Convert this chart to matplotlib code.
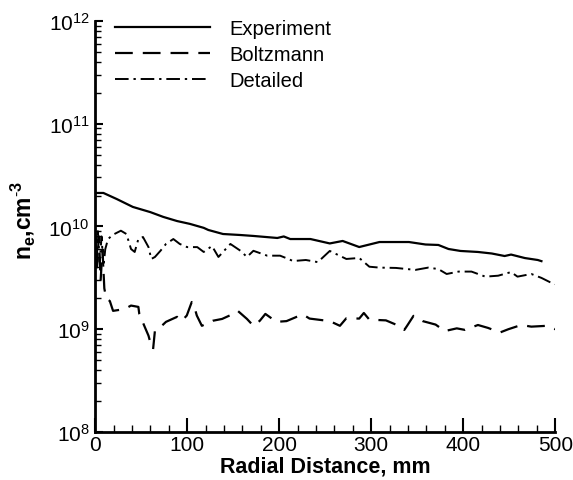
import numpy as np
import matplotlib.pyplot as plt
from matplotlib.ticker import LogLocator, NullFormatter, MultipleLocator

plt.rcParams['font.family'] = ['Liberation Sans', 'DejaVu Sans']
plt.rcParams['mathtext.fontset'] = 'custom'
plt.rcParams['mathtext.rm'] = 'Liberation Sans'
plt.rcParams['mathtext.it'] = 'Liberation Sans'
plt.rcParams['mathtext.bf'] = 'Liberation Sans:bold'

# Experiment (solid)
x_exp = [0, 9, 23.5, 41, 60, 74, 89, 103, 118, 123, 139, 158, 172, 198, 205, 212,
         234, 255, 269, 287, 309, 341, 359, 373, 384, 397, 416, 431, 445, 452, 467, 481, 485]
ne_exp = [2.12e10, 2.12e10, 1.85e10, 1.55e10, 1.38e10, 1.24e10, 1.13e10, 1.06e10, 9.7e9,
          9.25e9, 8.45e9, 8.26e9, 8.09e9, 7.73e9, 8.0e9, 7.55e9, 7.55e9, 6.84e9, 7.23e9,
          6.31e9, 7.06e9, 7.06e9, 6.68e9, 6.61e9, 6.04e9, 5.78e9, 5.65e9, 5.46e9, 5.16e9,
          5.33e9, 4.93e9, 4.72e9, 4.6e9]

# Boltzmann model (dashed)
x_bol = [0, 2, 4, 6, 8, 10, 12, 16, 19.5, 32, 39, 47, 48, 54, 58, 61, 63, 65, 71, 77,
         89, 94, 99.6, 105, 107, 110.5, 116, 128, 138, 150, 155, 165, 172, 179, 185, 197,
         208, 219, 226, 233, 255, 266, 273, 287, 292, 298, 316, 330, 336, 339, 346, 356,
         370, 380, 393, 402, 416, 427, 440, 449, 463, 474, 491, 500]
ne_bol = [9e9, 4e9, 8e9, 3e9, 6e9, 2.5e9, 2.0e9, 1.88e9, 1.51e9, 1.57e9, 1.70e9, 1.65e9,
          1.41e9, 1.05e9, 8.66e8, 6.9e8, 6.4e8, 9.7e8, 1.05e9, 1.18e9, 1.32e9, 1.2e9,
          1.36e9, 1.84e9, 1.76e9, 1.36e9, 1.08e9, 1.21e9, 1.26e9, 1.41e9, 1.51e9, 1.26e9,
          1.08e9, 1.21e9, 1.41e9, 1.18e9, 1.2e9, 1.32e9, 1.39e9, 1.27e9, 1.2e9, 1.08e9,
          1.28e9, 1.27e9, 1.44e9, 1.24e9, 1.22e9, 1.08e9, 9.85e8, 1.08e9, 1.35e9, 1.2e9,
          1.11e9, 9.6e8, 1.02e9, 9.85e8, 1.1e9, 1.03e9, 9.3e8, 1.0e9, 1.1e9, 1.06e9,
          1.08e9, 1.0e9]

# Detailed model (dash-dot)
x_det = [0, 2, 3, 5, 7, 9, 11, 14, 19.5, 28, 34, 39, 43, 47, 52, 58, 61, 65, 71, 77,
         85, 92, 100, 111, 118, 127, 134, 139, 147, 158, 165, 172, 187, 201, 210, 215,
         229, 242, 255, 273, 287, 298, 309, 327, 348, 362, 373, 382, 395, 409, 424, 438,
         452, 459, 474, 485, 494, 500]
ne_det = [9.5e9, 5e9, 9e9, 4.5e9, 8e9, 4e9, 6e9, 7.55e9, 8.32e9, 9.1e9, 8.45e9, 6.04e9,
          5.65e9, 7.55e9, 7.9e9, 6.3e9, 4.83e9, 5.05e9, 5.8e9, 6.76e9, 7.55e9, 6.76e9,
          6.3e9, 6.3e9, 5.65e9, 6.46e9, 5.05e9, 5.65e9, 6.76e9, 5.8e9, 5.05e9, 5.8e9,
          5.2e9, 5.2e9, 4.83e9, 4.61e9, 4.72e9, 4.5e9, 5.78e9, 4.83e9, 4.94e9, 4.06e9,
          3.98e9, 3.95e9, 3.78e9, 3.98e9, 3.85e9, 3.45e9, 3.64e9, 3.64e9, 3.25e9, 3.32e9,
          3.6e9, 3.25e9, 3.45e9, 3.16e9, 2.88e9, 2.75e9]

fig = plt.figure(figsize=(5.73, 4.81), dpi=100)
ax = fig.add_axes([0.166, 0.0998, 0.803, 0.8545])

ax.plot(x_exp, ne_exp, color='black', lw=1.6, ls='-', label='Experiment')
ax.plot(x_bol, ne_bol, color='black', lw=1.6, ls=(0, (8, 4.5)), label='Boltzmann')
ax.plot(x_det, ne_det, color='black', lw=1.4, ls=(0, (7, 2.5, 1.2, 2.5)), label='Detailed')

ax.set_yscale('log')
ax.set_xlim(0, 500)
ax.set_ylim(1e8, 1e12)
ax.xaxis.set_major_locator(MultipleLocator(100))
ax.xaxis.set_minor_locator(MultipleLocator(20))
ax.yaxis.set_major_locator(LogLocator(base=10, numticks=10))
ax.yaxis.set_minor_locator(LogLocator(base=10, subs=np.arange(2, 10), numticks=10))
ax.yaxis.set_minor_formatter(NullFormatter())

for side in ['top', 'right']:
    ax.spines[side].set_visible(False)
for side in ['left', 'bottom']:
    ax.spines[side].set_linewidth(2)

ax.tick_params(axis='x', which='major', direction='in', length=10, width=1.5, labelsize=15, pad=2)
ax.tick_params(axis='x', which='minor', direction='in', length=5, width=1)
ax.tick_params(axis='y', which='major', direction='in', length=6, width=1.5, labelsize=15, pad=4)
ax.tick_params(axis='y', which='minor', direction='in', length=4, width=1)

ax.set_xlabel('Radial Distance, mm', fontsize=15.5, fontweight='bold', labelpad=1)
ax.set_ylabel(r'$\mathbf{n_e}$,cm$^{\mathbf{\text{-}3}}$', fontsize=16.5, fontweight='bold')
ax.yaxis.set_label_coords(-0.126, 0.518)

ax.legend(loc='upper left', bbox_to_anchor=(0.0435, 1.005), frameon=False, fontsize=14.5,
          handlelength=4.7, handletextpad=0.95, labelspacing=0.36,
          borderaxespad=0, borderpad=0)

fig.savefig('out.png', dpi=100)
